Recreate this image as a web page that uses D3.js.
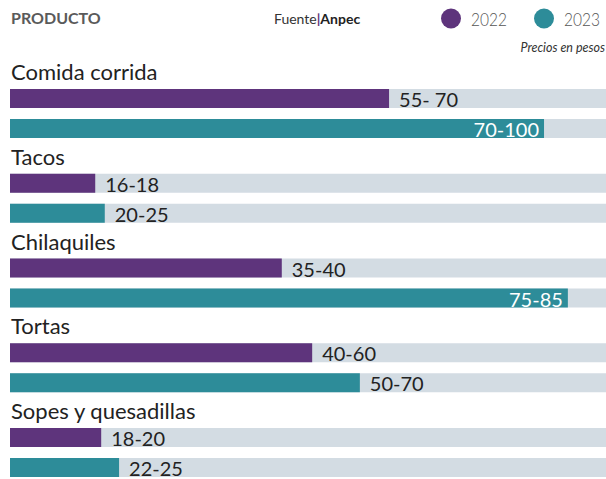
<!DOCTYPE html>
<html>
<head>
<meta charset="utf-8">
<script src="https://cdn.jsdelivr.net/npm/d3@7"></script>
<style>
  body { margin: 0; background: #fff; }
  text { font-family: Lato, "Open Sans", sans-serif; }
</style>
</head>
<body>
<div id="chart"></div>
<script>
//// precios de comida callejera 2022 vs 2023
const productos = ["Comida corrida", "Tacos", "Chilaquiles", "Tortas", "Sopes y quesadillas"];
const rangos2022 = ["55- 70", "16-18", "35-40", "40-60", "18-20"];
const rangos2023 = ["70-100", "20-25", "75-85", "50-70", "22-25"];
// largo de cada barra, en % del riel gris
const largo2022 = [63.6, 14.3, 45.6, 50.7, 15.3];
const largo2023 = [89.6, 15.9, 93.6, 58.7, 18.3];
const anios = ["2022", "2023"];

const colores = {"2022": "#5e347c", "2023": "#2d8c99"};

const width = 606, height = 479;

const svg = d3.select("#chart").append("svg")
    .attr("width", width)
    .attr("height", height);

let x = d3.scaleLinear().domain([0, 100]).range([10, 606]);

let y = d3.scaleBand()      ////one band per producto
    .domain(productos)
    .range([89, 89 + 84.75 * 5])
    .paddingInner(0).paddingOuter(0);

let yAnio = d3.scaleOrdinal().domain(anios).range([0, 30]);
const barH = 19;

//// header
svg.append("text")
    .attr("x", 11).attr("y", 24)
    .text("PRODUCTO")
    .style("font-weight", "bold")
    .style("font-size", "16px")
    .style("fill", "#5a5a5a");

let fuente = svg.append("text")
    .attr("x", 274).attr("y", 24)
    .style("font-size", "14px");
fuente.append("tspan").text("Fuente").style("fill", "#333");
fuente.append("tspan").text("|").style("fill", "#5e347c").style("font-weight", "bold");
fuente.append("tspan").text("Anpec").style("fill", "#222").style("font-weight", "bold");

let leyenda = svg.selectAll(".leyenda")
    .data(anios)
    .enter().append("g")
    .attr("class", "leyenda")
    .attr("transform", (d, i) => `translate(${451 + i * 93},18.5)`);

leyenda.append("circle")
    .attr("r", 10)
    .style("fill", d => colores[d]);

leyenda.append("text")
    .attr("x", 20).attr("y", 7.5)
    .text(d => d)
    .attr("textLength", 36)
    .attr("lengthAdjust", "spacingAndGlyphs")
    .style("font-size", "18px")
    .style("font-weight", 300)
    .style("fill", "#555");

svg.append("text")
    .attr("x", 605).attr("y", 52)
    .attr("text-anchor", "end")
    .text("Precios en pesos")
    .style("font-style", "italic")
    .style("font-size", "12.5px")
    .style("fill", "#333");

//// groups
let filas = [];
productos.forEach((p, i) => {
  filas.push({producto: p, anio: "2022", largo: largo2022[i], rango: rangos2022[i]});
  filas.push({producto: p, anio: "2023", largo: largo2023[i], rango: rangos2023[i]});
});

svg.selectAll(".cat")
    .data(productos)
    .enter().append("text")
    .attr("class", "cat")
    .attr("x", 11)
    .attr("y", d => y(d) - 9)
    .text(d => d)
    .style("font-size", "22px")
    .style("fill", "#222");

let barras = svg.selectAll(".fila")
    .data(filas)
    .enter().append("g")
    .attr("class", "fila")
    .attr("transform", d => `translate(0,${y(d.producto) + yAnio(d.anio)})`);

barras.append("rect")     ////riel gris
    .attr("x", x(0))
    .attr("width", x(100) - x(0))
    .attr("height", barH)
    .style("fill", "#d3dce3");

barras.append("rect")
    .attr("x", x(0))
    .attr("width", d => x(d.largo) - x(0))
    .attr("height", barH)
    .style("fill", d => colores[d.anio]);

barras.append("text")
    .attr("x", d => d.largo > 80 ? x(d.largo) - 5 : x(d.largo) + 10)
    .attr("y", barH - 1)
    .attr("text-anchor", d => d.largo > 80 ? "end" : "start")
    .text(d => d.rango)
    .style("font-size", "20px")
    .style("fill", d => d.largo > 80 ? "#fff" : "#222");
</script>
</body>
</html>
